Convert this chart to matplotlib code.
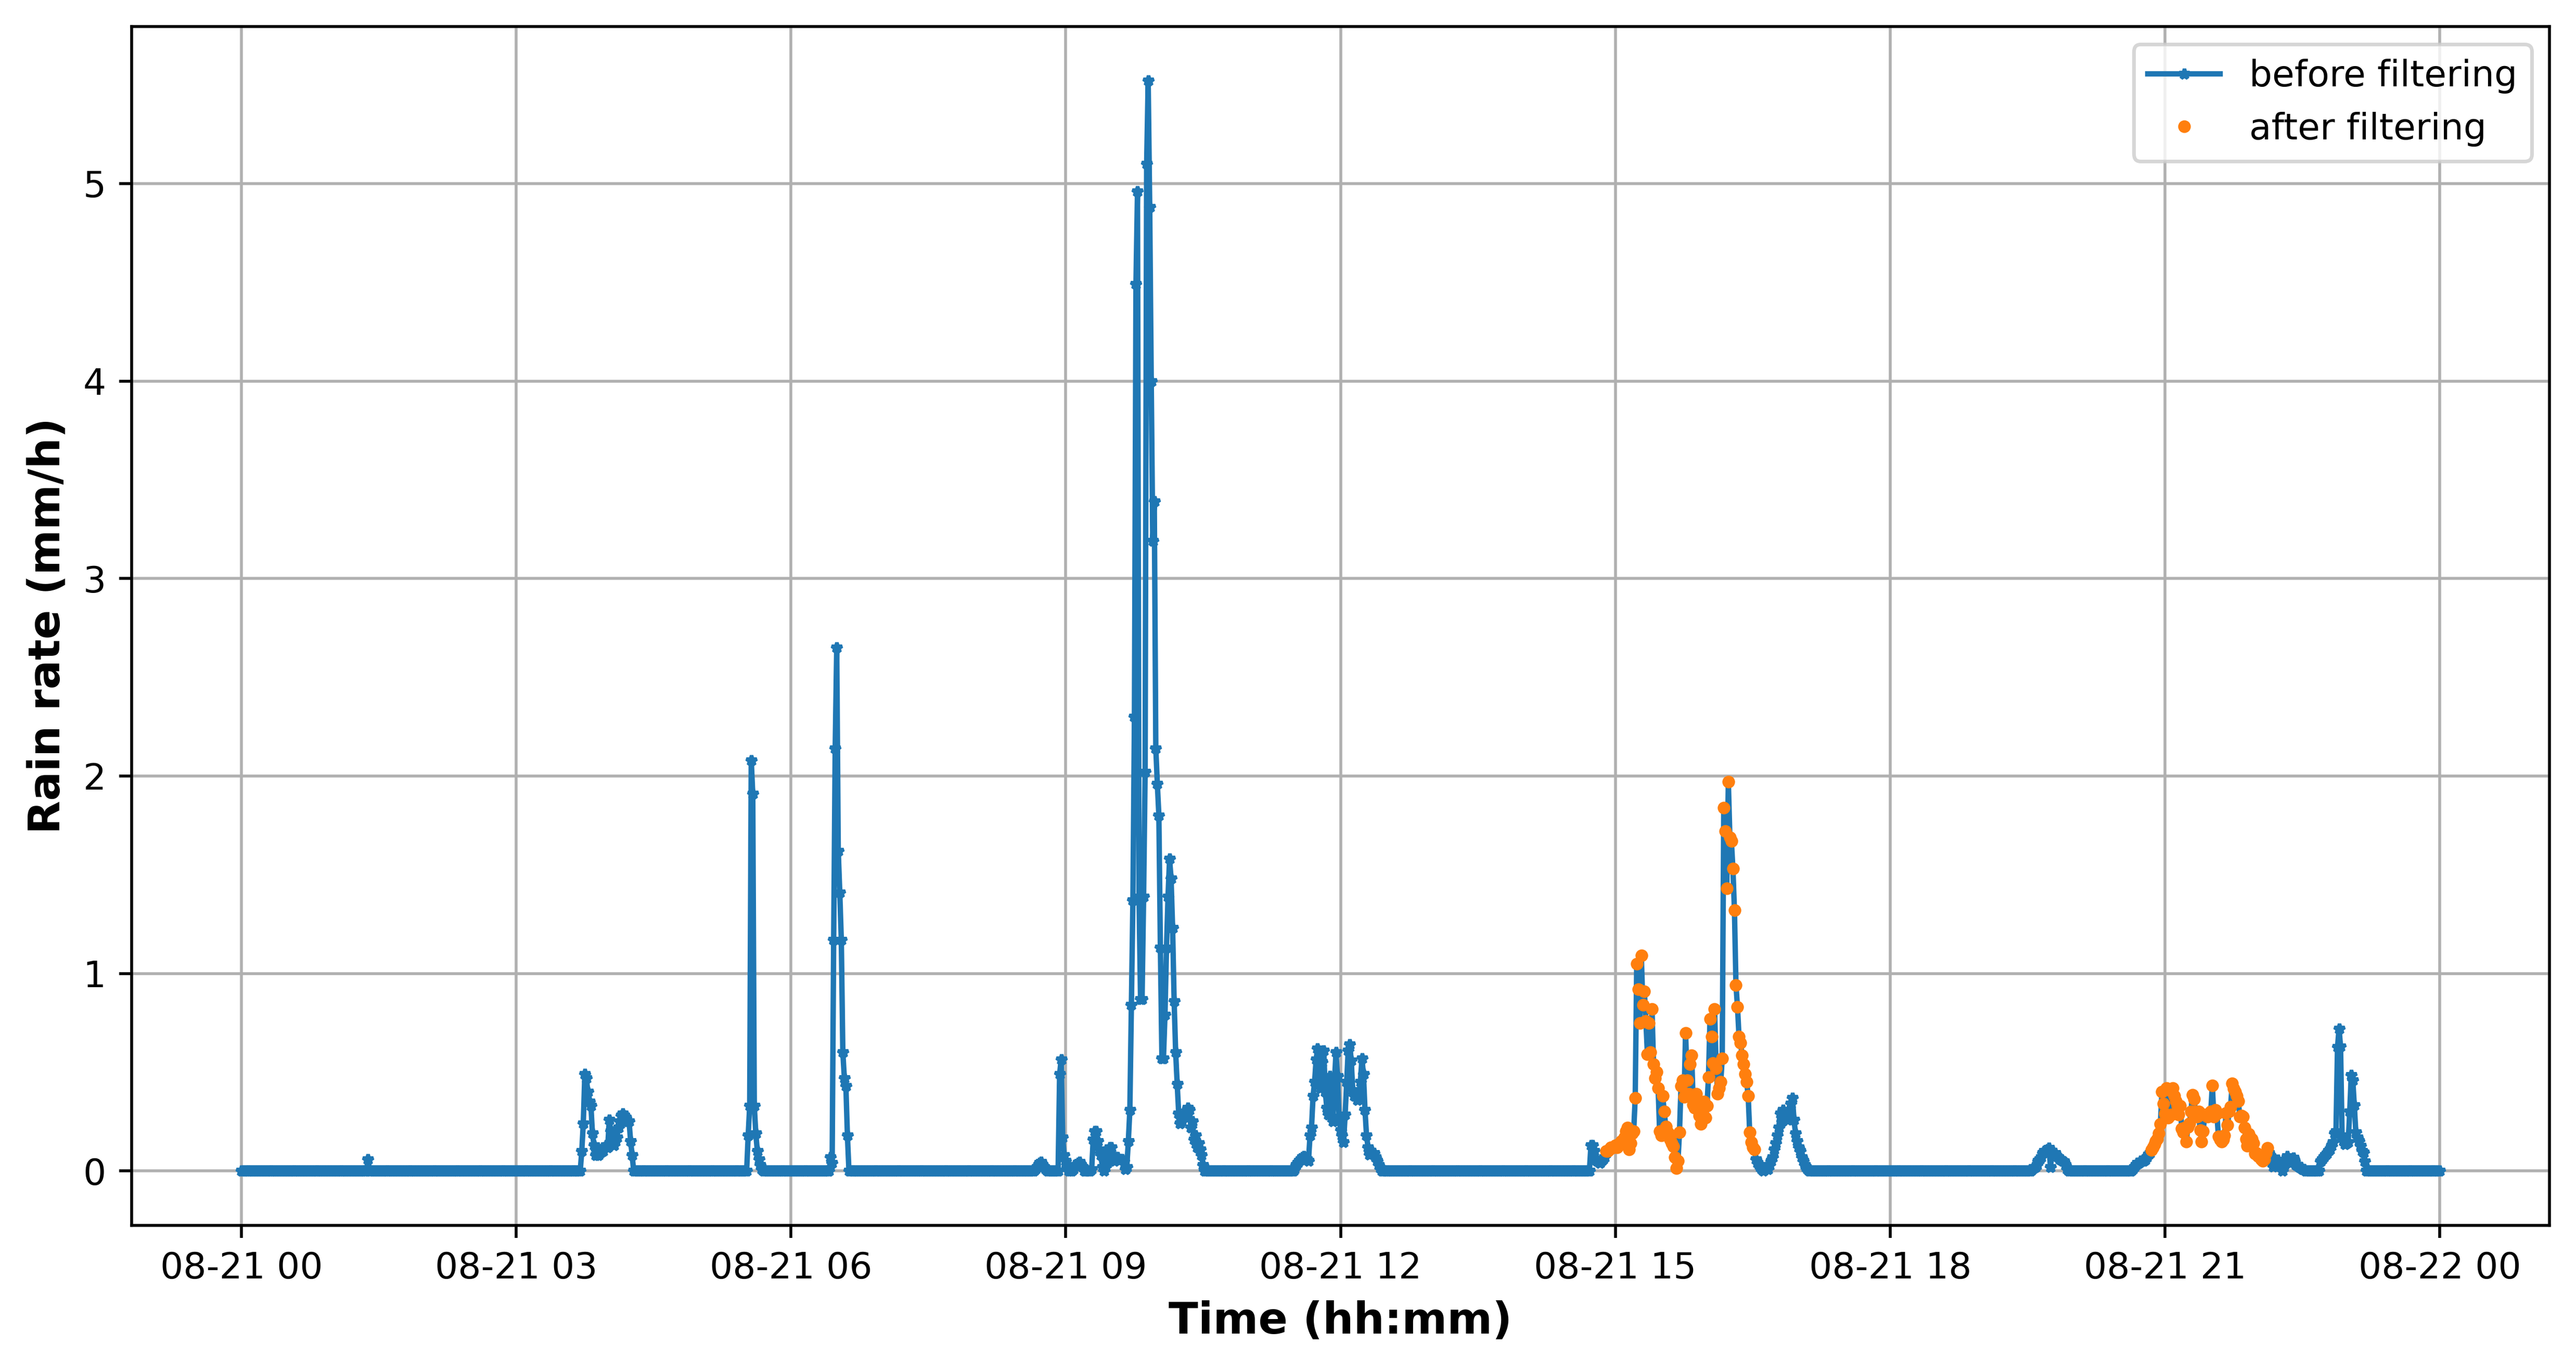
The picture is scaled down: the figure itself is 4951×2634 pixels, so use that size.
import numpy as np
import pandas as pd
import matplotlib
matplotlib.use("Agg")
import matplotlib.pyplot as plt
import matplotlib.dates as mdates

# one sample per minute, 08-21 00:00 .. 08-22 00:00, rain rate in mm/h
day_start = "2023-08-21 00:00"
day_end = "2023-08-22 00:00"

# bursts of rain: start time (hh:mm) and one value per minute from there on,
# everything else is 0
burst_0123 = [0.06]
burst_0343 = [0.10, 0.24, 0.49, 0.47, 0.40, 0.35, 0.33, 0.19, 0.13, 0.08,
              0.10, 0.08, 0.09, 0.11, 0.10, 0.12, 0.13, 0.12, 0.26, 0.20,
              0.14, 0.13, 0.15, 0.17, 0.22, 0.25, 0.28, 0.29, 0.28, 0.27,
              0.25, 0.25, 0.15, 0.08]
burst_0532 = [0.18, 0.33, 2.08, 1.91, 0.33, 0.19, 0.10, 0.06, 0.03, 0.01]
burst_0626 = [0.07, 0.04, 1.17, 2.14, 2.65, 1.62, 1.41, 1.17, 0.60, 0.47,
              0.43, 0.18]
burst_0840 = [0.01, 0.02, 0.03, 0.04, 0.045, 0.03, 0.02, 0.01, 0.0, 0.0,
              0.0, 0.0, 0.0, 0.0, 0.0, 0.0, 0.49, 0.565, 0.17, 0.08,
              0.05, 0.02, 0.0, 0.0, 0.0, 0.01, 0.03, 0.03, 0.04, 0.045,
              0.03, 0.02, 0.0, 0.0, 0.0, 0.0, 0.0, 0.01, 0.16, 0.20,
              0.20, 0.15, 0.11, 0.08, 0.02, 0.0, 0.02, 0.06, 0.10, 0.12,
              0.12, 0.06, 0.05, 0.07, 0.07, 0.06, 0.06, 0.06, 0.05, 0.01,
              0.02, 0.15, 0.31, 0.84, 1.37, 2.30, 4.49, 4.96, 1.39, 0.87,
              0.87, 1.39, 2.02, 5.10, 5.52, 4.88, 4.00, 3.19, 3.39, 2.14,
              1.96, 1.80, 1.13, 0.57, 0.57, 0.79, 1.13, 1.39, 1.58, 1.48,
              1.23, 0.86, 0.60, 0.44, 0.29, 0.24, 0.25, 0.27, 0.28, 0.30,
              0.32, 0.31, 0.22, 0.25, 0.16, 0.18, 0.12, 0.14, 0.11, 0.08,
              0.03]
burst_1130 = [0.01, 0.03, 0.04, 0.05, 0.06, 0.07, 0.075, 0.07, 0.06, 0.05,
              0.18, 0.22, 0.38, 0.45, 0.565, 0.62, 0.60, 0.42, 0.55, 0.61,
              0.40, 0.32, 0.285, 0.48, 0.35, 0.25, 0.45, 0.60, 0.48, 0.276,
              0.206, 0.18, 0.145, 0.285, 0.45, 0.61, 0.64, 0.56, 0.41, 0.38,
              0.38, 0.36, 0.37, 0.45, 0.57, 0.49, 0.31, 0.18, 0.12, 0.083,
              0.09, 0.09, 0.09, 0.07, 0.05, 0.03, 0.013]
burst_1444 = [0.13, 0.13, 0.10, 0.06, 0.05, 0.05, 0.04, 0.05, 0.06, 0.07,
              0.10, 0.10, 0.11, 0.12, 0.12, 0.12, 0.13, 0.12, 0.13, 0.14,
              0.15, 0.15, 0.17, 0.20, 0.22, 0.11, 0.14, 0.19, 0.20,
              0.37, 1.05, 0.92, 0.75, 1.09, 0.84, 0.91, 0.76, 0.59, 0.75,
              0.60, 0.82, 0.54, 0.47, 0.50, 0.42, 0.20, 0.18, 0.38,
              0.30, 0.225, 0.20, 0.19, 0.16, 0.14, 0.125, 0.07,
              0.014, 0.05, 0.195, 0.43, 0.46, 0.375, 0.70, 0.46, 0.39, 0.54,
              0.585, 0.334, 0.32, 0.39, 0.33, 0.28, 0.237, 0.30, 0.35, 0.27,
              0.33, 0.476, 0.77, 0.68, 0.545, 0.82, 0.52, 0.39, 0.42, 0.45,
              0.57, 1.84, 1.72, 1.43, 1.97, 1.69, 1.67, 1.53, 1.32, 0.94,
              0.83, 0.68, 0.65, 0.585, 0.54, 0.49, 0.45, 0.38, 0.195, 0.146,
              0.12, 0.11, 0.06, 0.04, 0.03, 0.02, 0.01, 0.0, 0.01, 0.02,
              0.01, 0.03, 0.05, 0.07, 0.11, 0.14, 0.18, 0.22, 0.29, 0.25,
              0.31, 0.28, 0.27, 0.26, 0.30, 0.34, 0.37, 0.26, 0.19, 0.15,
              0.12, 0.10, 0.07, 0.05, 0.03, 0.02, 0.01]
burst_1933 = [0.01, 0.02, 0.02, 0.03, 0.05, 0.06, 0.07, 0.09, 0.10, 0.10,
              0.11, 0.118, 0.02, 0.09, 0.08, 0.09, 0.074, 0.07, 0.06, 0.057,
              0.05, 0.048, 0.03, 0.01]
burst_2039 = [0.01, 0.02, 0.03, 0.04, 0.04, 0.05, 0.05, 0.05, 0.057, 0.07,
              0.083, 0.09,
              0.105, 0.12, 0.136, 0.15, 0.162, 0.19, 0.237, 0.40, 0.34, 0.29,
              0.42, 0.27, 0.41, 0.285, 0.42, 0.38, 0.355, 0.33, 0.285, 0.33,
              0.215, 0.197, 0.22, 0.149, 0.223, 0.24, 0.30, 0.386, 0.364, 0.30,
              0.276, 0.30, 0.206, 0.149, 0.20, 0.285, 0.28, 0.276, 0.28, 0.30,
              0.434, 0.276, 0.31, 0.29, 0.175, 0.16, 0.149, 0.16, 0.18, 0.294,
              0.232, 0.30, 0.324, 0.443, 0.416, 0.40, 0.38, 0.355, 0.276, 0.28,
              0.276, 0.22, 0.162, 0.127, 0.188, 0.17, 0.162, 0.14, 0.088, 0.09,
              0.075, 0.08, 0.06, 0.05, 0.06, 0.09, 0.118,
              0.09, 0.075, 0.06, 0.022, 0.04, 0.05, 0.057, 0.04, 0.02, 0.0,
              0.03, 0.05, 0.075, 0.05, 0.04, 0.06, 0.066, 0.05, 0.03, 0.03,
              0.02, 0.02, 0.01, 0.01]
burst_2242 = [0.048, 0.06, 0.07, 0.08, 0.088, 0.10, 0.11, 0.127, 0.145, 0.19,
              0.20, 0.627, 0.72, 0.63, 0.18, 0.15, 0.136, 0.14, 0.145, 0.30,
              0.486, 0.46, 0.333, 0.197, 0.17, 0.15, 0.127, 0.10, 0.092, 0.048]

bursts = [("01:23", burst_0123), ("03:43", burst_0343), ("05:32", burst_0532),
          ("06:26", burst_0626), ("08:40", burst_0840), ("11:30", burst_1130),
          ("14:44", burst_1444), ("19:33", burst_1933), ("20:39", burst_2039),
          ("22:42", burst_2242)]

# stretches kept by the filter
kept_windows = [("14:54", "16:31"), ("20:51", "22:07")]


def to_minute(hhmm):
    h, m = hhmm.split(":")
    return int(h) * 60 + int(m)


times = pd.date_range(day_start, day_end, freq="1min")
before = np.zeros(len(times))
for start, vals in bursts:
    i = to_minute(start)
    before[i:i + len(vals)] = vals

after = np.full(len(times), np.nan)
for a, b in kept_windows:
    i, j = to_minute(a), to_minute(b) + 1
    after[i:j] = before[i:j]

fig, ax = plt.subplots(figsize=(4951 / 500, 2634 / 500), dpi=500)

ax.plot(times, before, '*-', markersize=3, linewidth=1.5, label='before filtering')
ax.plot(times, after, '.', markersize=5, label='after filtering')

ax.xaxis.set_major_locator(mdates.HourLocator(byhour=range(0, 24, 3)))
ax.xaxis.set_major_formatter(mdates.DateFormatter('%m-%d %H'))

ax.set_xlabel('Time (hh:mm)', fontsize=12, fontweight='bold')
ax.set_ylabel('Rain rate (mm/h)', fontsize=12, fontweight='bold')
ax.grid(True)
ax.legend(loc='upper right')

fig.subplots_adjust(left=0.051, right=0.9898, bottom=0.1055, top=0.9808)
fig.savefig('out.png', dpi=500)
